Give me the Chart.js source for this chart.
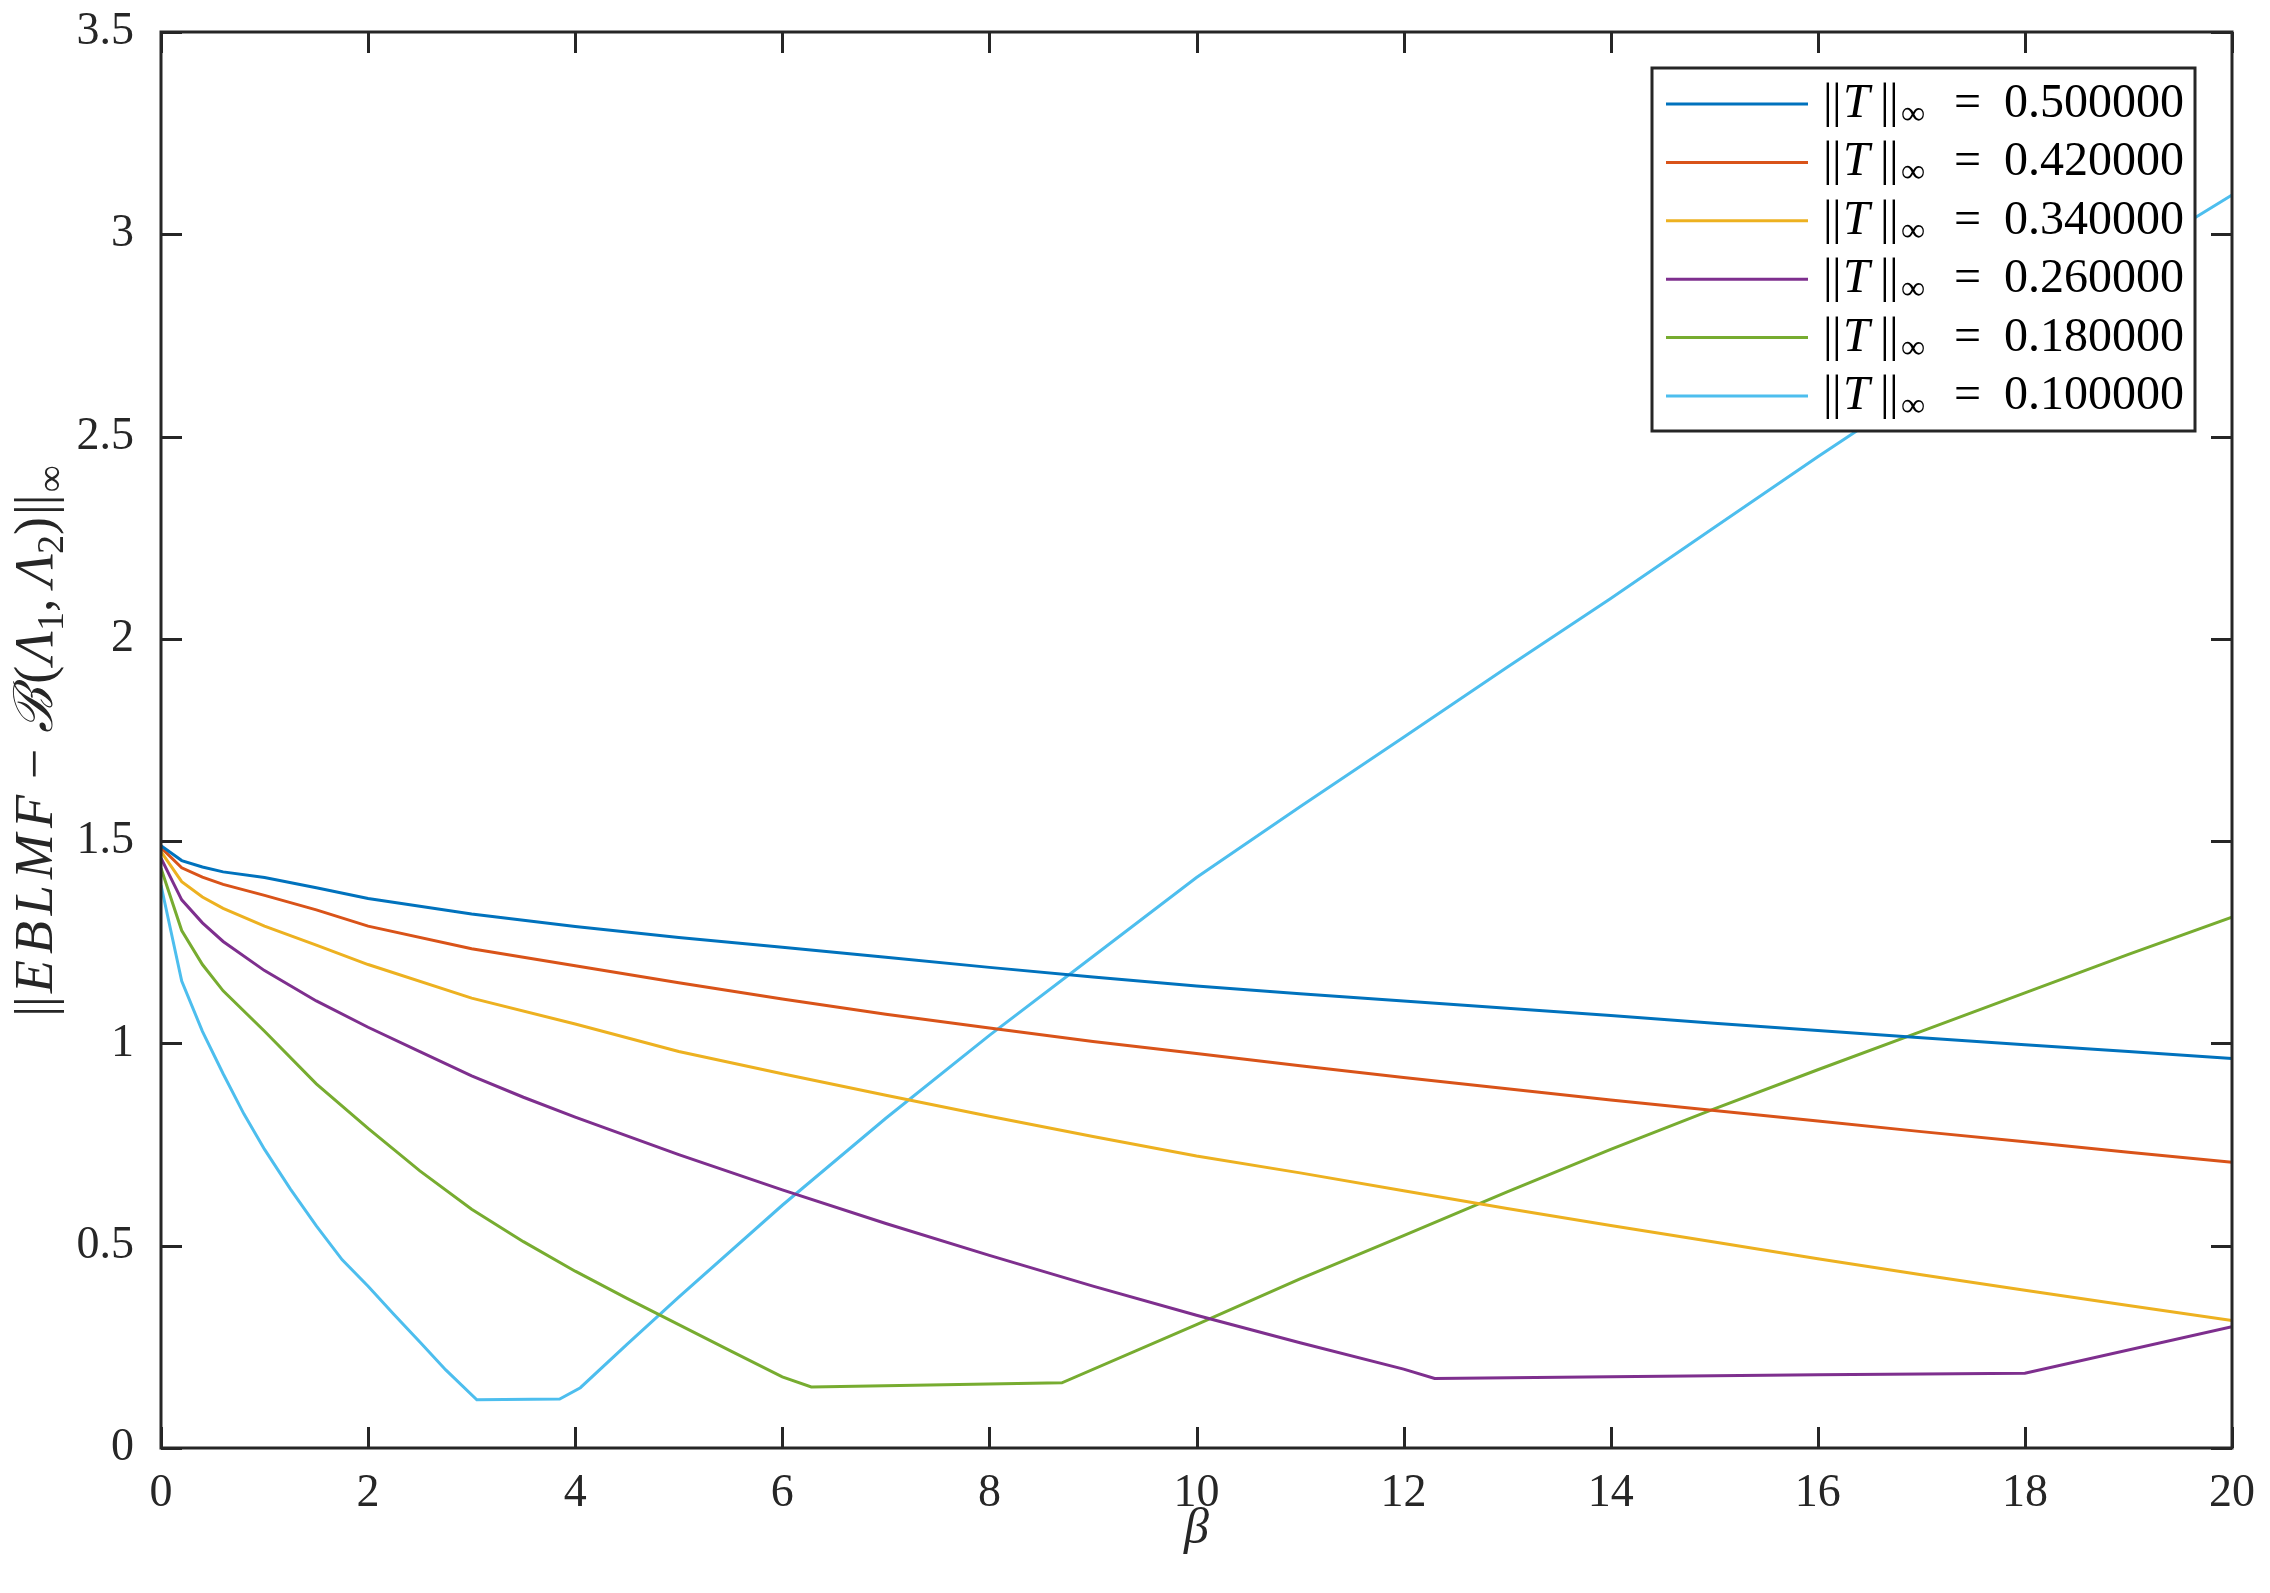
<!DOCTYPE html>
<html>
<head>
<meta charset="utf-8">
<script src="https://cdn.jsdelivr.net/npm/chart.js@4.4.1/dist/chart.umd.min.js"></script>
<style>
  html, body { margin: 0; padding: 0; background: #fff; }
  canvas { display: block; }
</style>
</head>
<body>
<canvas id="errChart" width="2270" height="1593" style="width:2270px;height:1593px"></canvas>
<script>
// beta samples
const betaSmooth = [0, 0.2, 0.4, 0.6, 1, 1.5, 2, 3, 4, 5, 6, 7, 8, 9, 10, 11, 12, 13, 14, 15, 16, 17, 18, 19, 20]
const betaPurple = [0, 0.2, 0.4, 0.6, 1, 1.5, 2, 2.5, 3, 3.5, 4, 5, 6, 7, 8, 9, 10, 11, 12, 12.3, 14, 16, 18, 20]
const betaGreen = [0, 0.2, 0.4, 0.6, 1, 1.5, 2, 2.5, 3, 3.5, 4, 4.5, 5, 5.5, 6, 6.28, 8.7, 10, 11, 12, 13, 14, 15, 16, 17, 18, 19, 20]
const betaCyan = [0, 0.2, 0.4, 0.6, 0.8, 1, 1.25, 1.5, 1.75, 2, 2.25, 2.5, 2.75, 3.05, 3.85, 4.05, 4.5, 5, 6, 7, 8, 9, 10, 11, 12, 13, 14, 15, 16, 17, 18, 19, 20]

// error values for each ||T||_inf
const errT050 = [1.489, 1.452, 1.436, 1.424, 1.41, 1.385, 1.358, 1.32, 1.289, 1.262, 1.238, 1.213, 1.188, 1.164, 1.142, 1.123, 1.105, 1.087, 1.069, 1.05, 1.032, 1.014, 0.997, 0.98, 0.963]
const errT042 = [1.484, 1.434, 1.411, 1.393, 1.366, 1.33, 1.29, 1.234, 1.192, 1.15, 1.11, 1.072, 1.038, 1.005, 0.975, 0.945, 0.916, 0.888, 0.86, 0.834, 0.808, 0.782, 0.757, 0.731, 0.706]
const errT034 = [1.474, 1.40, 1.362, 1.334, 1.29, 1.243, 1.195, 1.112, 1.048, 0.98, 0.925, 0.872, 0.82, 0.77, 0.722, 0.68, 0.636, 0.592, 0.55, 0.509, 0.468, 0.428, 0.39, 0.352, 0.315]
const errT026 = [1.458, 1.355, 1.298, 1.252, 1.18, 1.105, 1.04, 0.98, 0.92, 0.867, 0.818, 0.725, 0.638, 0.555, 0.476, 0.40, 0.328, 0.26, 0.195, 0.172, 0.176, 0.181, 0.185, 0.30]
const errT018 = [1.433, 1.279, 1.195, 1.13, 1.03, 0.90, 0.79, 0.685, 0.59, 0.51, 0.437, 0.37, 0.305, 0.24, 0.176, 0.151, 0.161, 0.305, 0.418, 0.525, 0.633, 0.738, 0.838, 0.935, 1.03, 1.125, 1.22, 1.312]
const errT010 = [1.391, 1.154, 1.03, 0.925, 0.826, 0.738, 0.64, 0.549, 0.465, 0.40, 0.33, 0.262, 0.193, 0.119, 0.121, 0.149, 0.256, 0.373, 0.60, 0.815, 1.02, 1.215, 1.41, 1.585, 1.757, 1.93, 2.10, 2.275, 2.45, 2.62, 2.785, 2.94, 3.097]

const normLabels = ['0.500000', '0.420000', '0.340000', '0.260000', '0.180000', '0.100000']
const lineColors = ['#0072BD', '#D95319', '#EDB120', '#7E2F8E', '#77AC30', '#4DBEEE']

const serif = "'Liberation Serif', 'DejaVu Serif', serif"
const axisColor = '#262626'

function pts(bs, vs) {
    return bs.map((b, i) => ({x: b, y: vs[i]}))
}

const series = [
    pts(betaSmooth, errT050),
    pts(betaSmooth, errT042),
    pts(betaSmooth, errT034),
    pts(betaPurple, errT026),
    pts(betaGreen, errT018),
    pts(betaCyan, errT010)
]

// text run: pieces can be italic, subscript, with extra space before/after
function drawRun(ctx, parts, x, y, size, measureOnly) {
    let cx = x
    for (const p of parts) {
        const sz = p.sub ? Math.round(size * 0.7) : size
        ctx.font = (p.it ? 'italic ' : '') + sz + 'px ' + serif
        cx += p.pre || 0
        if (!measureOnly) ctx.fillText(p.t, cx, y + (p.sub ? size * 0.2 : 0))
        cx += ctx.measureText(p.t).width + (p.gap || 0)
    }
    return cx - x
}

const matlabAxes = {
    id: 'matlabAxes',
    afterDraw(chart) {
        const {ctx, chartArea: {left, right, top, bottom}, scales: {x, y}} = chart
        ctx.save()
        ctx.strokeStyle = axisColor
        ctx.lineWidth = 3
        ctx.strokeRect(left, top, right - left, bottom - top)
        ctx.beginPath()
        const tl = 21
        x.ticks.forEach(t => {
            const px = Math.round(x.getPixelForValue(t.value)) + 0.5
            ctx.moveTo(px, bottom); ctx.lineTo(px, bottom - tl)
            ctx.moveTo(px, top); ctx.lineTo(px, top + tl)
        })
        y.ticks.forEach(t => {
            const py = Math.round(y.getPixelForValue(t.value)) + 0.5
            ctx.moveTo(left, py); ctx.lineTo(left + tl, py)
            ctx.moveTo(right, py); ctx.lineTo(right - tl, py)
        })
        ctx.stroke()

        // legend box
        const lx = 1652, ly = 68, lw = 543, lh = 363
        ctx.fillStyle = '#fff'
        ctx.fillRect(lx, ly, lw, lh)
        ctx.strokeStyle = axisColor
        ctx.lineWidth = 3
        ctx.strokeRect(lx, ly, lw, lh)
        ctx.textBaseline = 'alphabetic'
        ctx.textAlign = 'left'
        normLabels.forEach((lab, i) => {
            const cy = 104 + i * 58.4
            ctx.strokeStyle = lineColors[i]
            ctx.lineWidth = 3
            ctx.beginPath()
            ctx.moveTo(1666, cy); ctx.lineTo(1808, cy)
            ctx.stroke()
            ctx.fillStyle = '#000'
            const base = cy + 13, tx = 1823
            const piece = (t, dx, font, dy) => { ctx.font = font; ctx.fillText(t, tx + dx, base + (dy || 0)) }
            piece('|', 0, '48px ' + serif)
            piece('|', 9, '48px ' + serif)
            piece('T', 20, 'italic 48px ' + serif)
            piece('|', 57, '48px ' + serif)
            piece('|', 66, '48px ' + serif)
            piece('∞', 78, '34px ' + serif, 7)
            piece('=', 131, '48px ' + serif)
            piece(lab, 181, '48px ' + serif)
        })

        // y axis label, rotated
        const yparts = [
            {t: '|', gap: -1}, {t: '|', gap: 3},
            {t: 'E', it: true, gap: 6}, {t: 'B', it: true, gap: 6}, {t: 'L', it: true, gap: 6},
            {t: 'M', it: true, gap: 6}, {t: 'F', it: true},
            {t: '−', pre: 16, gap: 16}, {t: 'ℬ', it: true, gap: 4}, {t: '(', gap: 2},
            {t: 'Λ', it: true}, {t: '1', sub: true}, {t: ',', gap: 12}, {t: 'Λ', it: true},
            {t: '2', sub: true}, {t: ')', gap: 2}, {t: '|', gap: -1}, {t: '|', gap: 2}, {t: '∞', sub: true}
        ]
        ctx.fillStyle = axisColor
        ctx.translate(52, 741)
        ctx.rotate(-Math.PI / 2)
        const w = drawRun(ctx, yparts, 0, 0, 54, true)
        drawRun(ctx, yparts, -w / 2, 0, 54)
        ctx.restore()
    }
}

new Chart(document.getElementById('errChart'), {
    type: 'line',
    data: {
        datasets: series.map((d, i) => ({
            label: '‖T‖∞ = ' + normLabels[i],
            data: d,
            borderColor: lineColors[i],
            backgroundColor: lineColors[i],
            borderWidth: 3,
            pointRadius: 0,
            tension: 0,
            fill: false
        }))
    },
    options: {
        responsive: false,
        devicePixelRatio: 1,
        animation: false,
        layout: {padding: {left: 0, right: 38, top: 32, bottom: 0}},
        plugins: {legend: {display: false}, tooltip: {enabled: false}},
        scales: {
            x: {
                type: 'linear', min: 0, max: 20,
                grid: {display: false},
                border: {display: false},
                ticks: {stepSize: 2, padding: 10, color: axisColor, maxRotation: 0,
                    font: {family: serif, size: 46}},
                title: {display: true, text: 'β', color: axisColor, padding: {top: 0, bottom: 33},
                    font: {family: serif, size: 50, style: 'italic'}},
                afterFit(scale) {
                    scale.height = 145
                    scale.paddingLeft = 0
                    scale.paddingRight = 0
                }
            },
            y: {
                type: 'linear', min: 0, max: 3.5,
                grid: {display: false},
                border: {display: false},
                ticks: {stepSize: 0.5, padding: 19, color: axisColor,
                    font: {family: serif, size: 46},
                    callback: v => String(v)},
                afterFit(scale) {
                    scale.width = 161
                    scale.paddingTop = 0
                    scale.paddingBottom = 0
                }
            }
        }
    },
    plugins: [matlabAxes]
})
</script>
</body>
</html>
